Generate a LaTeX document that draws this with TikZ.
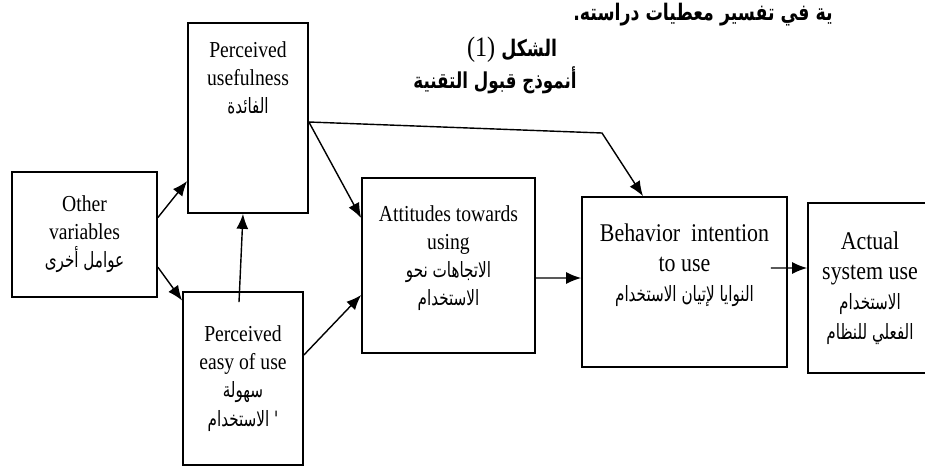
\documentclass[tikz,border=0pt]{standalone}
\usepackage{fontspec}
\setmainfont{Liberation Serif}[FakeStretch=0.86]
\newfontfamily\arabicfont[Script=Arabic,FakeStretch=0.72]{DejaVu Sans}
\newfontfamily\arabichead[Script=Arabic,FakeStretch=0.76]{DejaVu Sans Bold}
\TeXXeTstate=1
\usetikzlibrary{arrows.meta,positioning}
\newcommand{\artxt}[1]{{\arabicfont\fontsize{12}{16}\selectfont\beginR #1\endR}}
\tikzset{
  modelbox/.style={draw,line width=1pt,inner sep=0pt},
  boxtext/.style={align=center,font=\fontsize{13}{16}\selectfont,inner sep=1pt},
  bigtext/.style={boxtext,font=\fontsize{14.5}{17}\selectfont},
  arr/.style={line width=0.8pt,-{Latex[length=3mm,width=2.4mm]}},
}

\begin{document}
\begin{tikzpicture}[x=0.02cm,y=-0.02cm]
  \useasboundingbox (0,0) rectangle (925,470);
  % heading
  \node[font=\arabichead\fontsize{13}{15}\selectfont] (intro) at (703,15) {\beginR ية في تفسير معطيات دراسته.\endR};
  \node[font=\fontsize{16}{18}\selectfont] (figno) at (512,50) {(1) {\arabichead\fontsize{13}{18}\selectfont\beginR الشكل\endR}};
  \node[font=\arabichead\fontsize{12.5}{16}\selectfont] (figtitle) at (495,80) {\beginR أنموذج قبول التقنية\endR};
  % boxes
  \node[modelbox,minimum width=2.9cm,minimum height=2.5cm] (ov) at (84.5,234.5) {};
  \node[modelbox,minimum width=2.4cm,minimum height=3.8cm] (pu) at (248,118) {};
  \node[modelbox,minimum width=2.4cm,minimum height=3.46cm] (pe) at (243,378.5) {};
  \node[modelbox,minimum width=3.46cm,minimum height=3.5cm] (att) at (448.5,265.5) {};
  \node[modelbox,minimum width=4.1cm,minimum height=3.4cm] (bi) at (684.5,282) {};
  \node[modelbox,minimum width=2.8cm,minimum height=3.4cm] (as) at (878,288) {};
  % texts
  \node[boxtext] (ovtxt) at (ov) {Other\\variables\\\artxt{عوامل أخرى}};
  \node[boxtext,below=3.5mm of pu.north] (putxt) {Perceived\\usefulness\\\artxt{الفائدة}};
  \node[boxtext] (petxt) at (pe) {Perceived\\easy of use\\\artxt{سهولة}\\\artxt{' الاستخدام}};
  \node[boxtext] (atttxt) at ([yshift=0.15cm]att) {Attitudes towards\\using\\\artxt{الاتجاهات نحو}\\\artxt{الاستخدام}};
  \node[bigtext] (bitxt) at ([yshift=0.34cm]bi) {Behavior\ \ intention\\to use\\\artxt{النوايا لإتيان الاستخدام}};
  \node[bigtext] (astxt) at ([xshift=-0.16cm]as) {Actual\\system use\\\artxt{الاستخدام}\\\artxt{الفعلي للنظام}};
  % arrows
  \coordinate (puout) at ([yshift=-0.08cm]pu.east);
  \coordinate (bend) at (602,133);
  \draw[arr] (ov.13) -- (pu.226);
  \draw[arr] (ov.-24) -- (pe.128.5);
  \draw[arr] ([xshift=-0.08cm,yshift=-0.22cm]pe.north) -- ([xshift=-0.1cm]pu.south);
  \draw[arr] (puout) -- ([yshift=0.95cm]att.west);
  \draw[arr] (puout) -- (bend) -- ([xshift=-0.83cm]bi.north);
  \draw[arr] ([yshift=0.47cm]pe.east) -- ([yshift=-0.59cm]att.west);
  \draw[arr] ([yshift=-0.25cm]att.east) -- ([yshift=0.08cm]bi.west);
  \draw[arr] ([xshift=-0.34cm,yshift=0.28cm]bi.east) -- ([yshift=0.4cm]as.west);
\end{tikzpicture}
\end{document}
